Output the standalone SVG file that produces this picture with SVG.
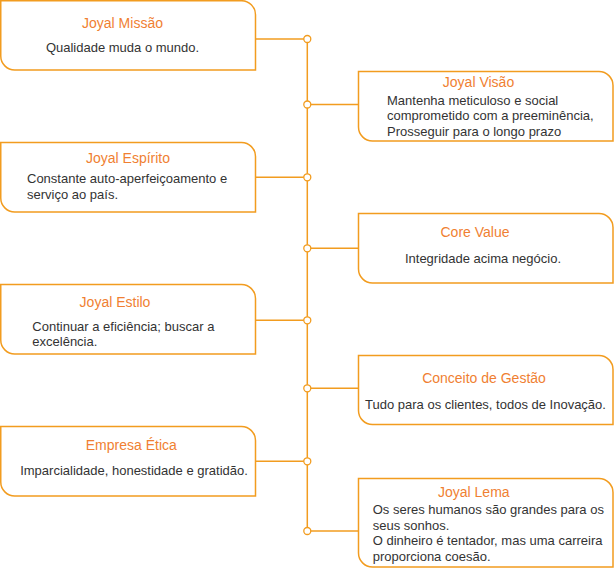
<svg xmlns="http://www.w3.org/2000/svg" width="614" height="568" viewBox="0 0 614 568">
<style>
.box{fill:#fff;stroke:#f29c1f;stroke-width:1.5}
.ln{stroke:#f29c1f;stroke-width:1.5;fill:none}
.dot{fill:#fff;stroke:#f29c1f;stroke-width:1.3}
.t{font-family:"Liberation Sans",Arial,sans-serif;font-size:14px;fill:#f07f32;text-anchor:middle}
.b{font-family:"Liberation Sans",Arial,sans-serif;font-size:13px;fill:#333}
.c{text-anchor:middle}
</style>
<rect width="614" height="568" fill="#fff"/>
<g id="connectors">
<line class="ln" x1="307.3" y1="39" x2="307.3" y2="531"/>
<line class="ln" x1="255.5" y1="39" x2="307.3" y2="39"/>
<line class="ln" x1="307.3" y1="104.5" x2="358.5" y2="104.5"/>
<line class="ln" x1="255.5" y1="177.3" x2="307.3" y2="177.3"/>
<line class="ln" x1="307.3" y1="248.3" x2="358.5" y2="248.3"/>
<line class="ln" x1="255.5" y1="320.3" x2="307.3" y2="320.3"/>
<line class="ln" x1="307.3" y1="388.3" x2="358.5" y2="388.3"/>
<line class="ln" x1="255.5" y1="461.3" x2="307.3" y2="461.3"/>
<line class="ln" x1="307.3" y1="531" x2="358.5" y2="531"/>
<circle class="dot" cx="307.3" cy="39" r="3.5"/>
<circle class="dot" cx="307.3" cy="104.5" r="3.5"/>
<circle class="dot" cx="307.3" cy="177.3" r="3.5"/>
<circle class="dot" cx="307.3" cy="248.3" r="3.5"/>
<circle class="dot" cx="307.3" cy="320.3" r="3.5"/>
<circle class="dot" cx="307.3" cy="388.3" r="3.5"/>
<circle class="dot" cx="307.3" cy="461.3" r="3.5"/>
<circle class="dot" cx="307.3" cy="531" r="3.5"/>
</g>
<g id="missao">
<path class="box" d="M0.75 0.75 H241 A14 14 0 0 1 255.5 15 V70 H14.75 A14 14 0 0 1 0.75 56 Z"/>
<text class="t" x="122.5" y="27.5">Joyal Missão</text>
<text class="b c" x="122.5" y="52">Qualidade muda o mundo.</text>
</g>
<g id="visao">
<path class="box" d="M358.5 71.5 H599 A14 14 0 0 1 613 85.5 V141 H372.5 A14 14 0 0 1 358.5 127 Z"/>
<text class="t" x="478.5" y="86.7">Joyal Visão</text>
<text class="b" x="387" y="104.5">Mantenha meticuloso e social</text>
<text class="b" x="387" y="120">comprometido com a preeminência,</text>
<text class="b" x="387" y="135.5">Prosseguir para o longo prazo</text>
</g>
<g id="espirito">
<path class="box" d="M0.75 142.5 H241.5 A14 14 0 0 1 255.5 156.5 V212 H14.75 A14 14 0 0 1 0.75 198 Z"/>
<text class="t" x="128" y="162.5">Joyal Espírito</text>
<text class="b" x="27" y="183">Constante auto-aperfeiçoamento e</text>
<text class="b" x="27" y="198.5">serviço ao país.</text>
</g>
<g id="core">
<path class="box" d="M358.5 213.5 H599 A14 14 0 0 1 613 227.5 V283 H372.5 A14 14 0 0 1 358.5 269 Z"/>
<text class="t" x="475" y="236.7">Core Value</text>
<text class="b c" x="483" y="263.3">Integridade acima negócio.</text>
</g>
<g id="estilo">
<path class="box" d="M0.75 284.5 H241.5 A14 14 0 0 1 255.5 298.5 V354 H14.75 A14 14 0 0 1 0.75 340 Z"/>
<text class="t" x="115" y="307.3">Joyal Estilo</text>
<text class="b" x="32.3" y="330.7">Continuar a eficiência; buscar a</text>
<text class="b" x="32.3" y="346">excelência.</text>
</g>
<g id="gestao">
<path class="box" d="M358.5 355.5 H599 A14 14 0 0 1 613 369.5 V424.5 H372.5 A14 14 0 0 1 358.5 410.5 Z"/>
<text class="t" x="484" y="383">Conceito de Gestão</text>
<text class="b c" x="485.5" y="409">Tudo para os clientes, todos de Inovação.</text>
</g>
<g id="etica">
<path class="box" d="M0.75 426.5 H241.5 A14 14 0 0 1 255.5 440.5 V496 H14.75 A14 14 0 0 1 0.75 482 Z"/>
<text class="t" x="131.3" y="450">Empresa Ética</text>
<text class="b c" x="134" y="475">Imparcialidade, honestidade e gratidão.</text>
</g>
<g id="lema">
<path class="box" d="M358.5 478.5 H599 A14 14 0 0 1 613 492.5 V567 H372.5 A14 14 0 0 1 358.5 553 Z"/>
<text class="t" x="473.8" y="497.3">Joyal Lema</text>
<text class="b" x="372.7" y="514">Os seres humanos são grandes para os</text>
<text class="b" x="372.7" y="529.5">seus sonhos.</text>
<text class="b" x="372.7" y="545">O dinheiro é tentador, mas uma carreira</text>
<text class="b" x="372.7" y="560.5">proporciona coesão.</text>
</g>
</svg>
